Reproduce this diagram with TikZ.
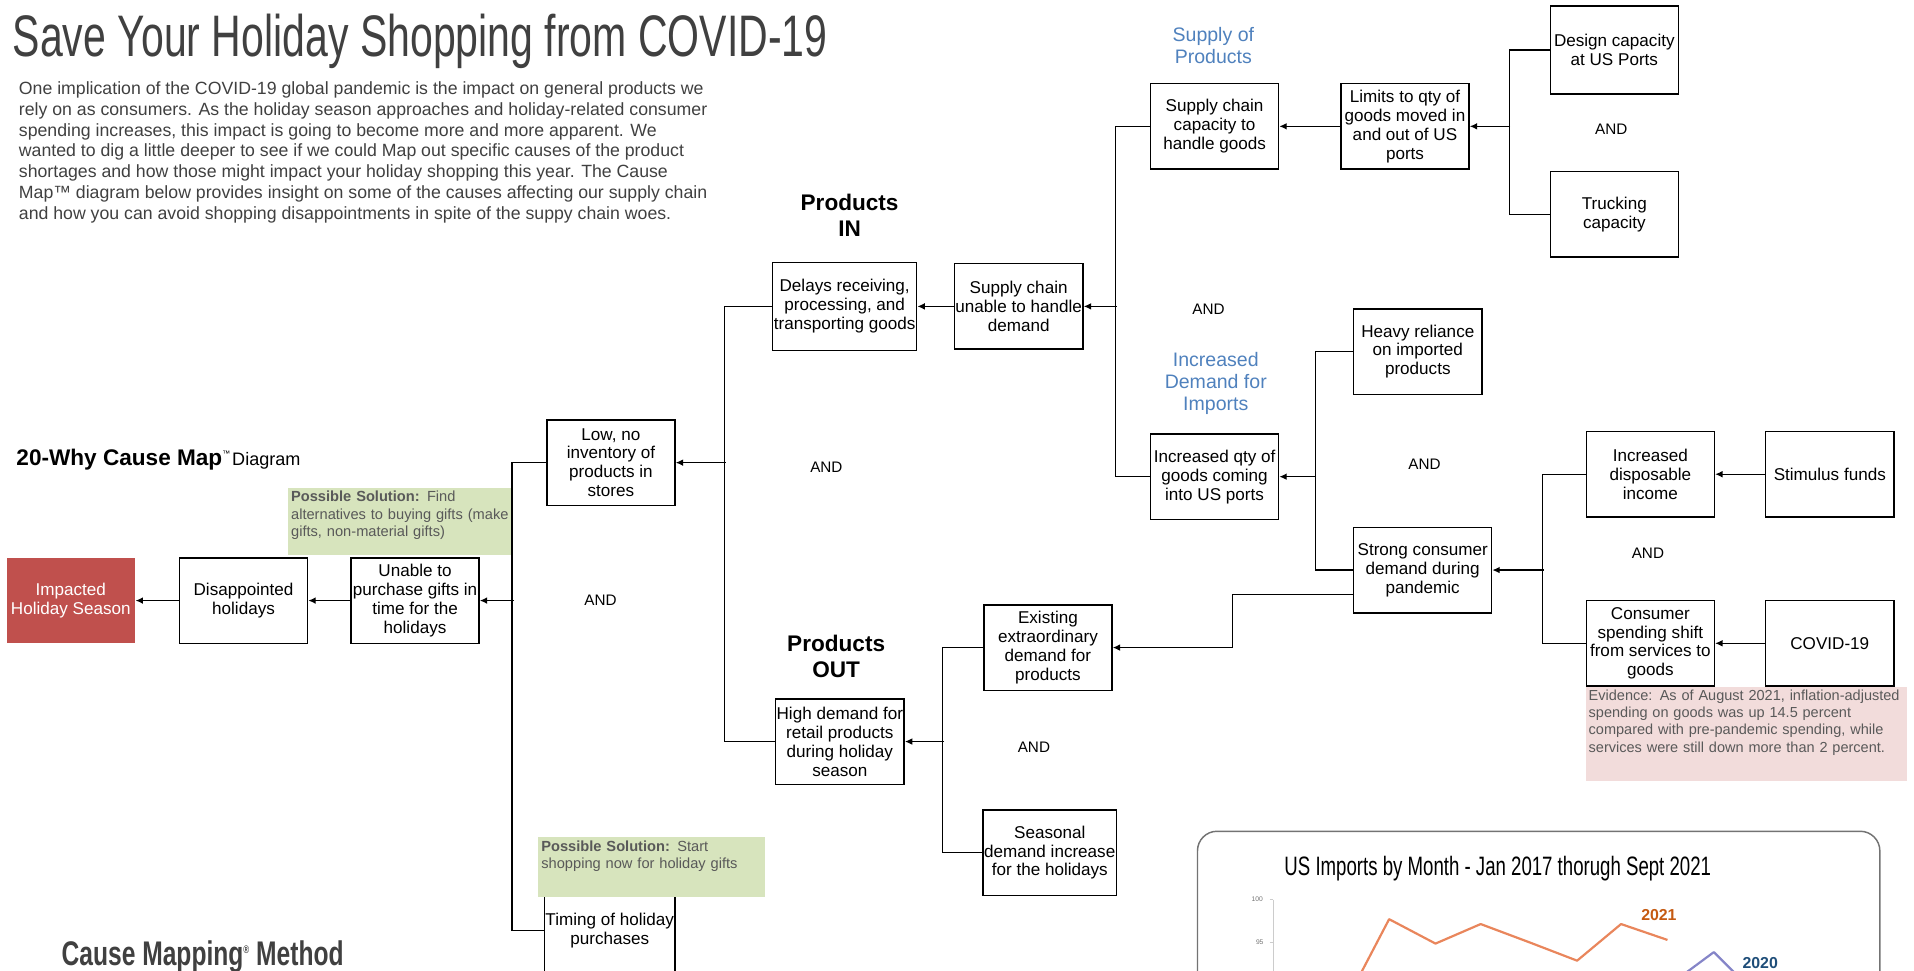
\documentclass[tikz,border=0pt]{standalone}
\usepackage{fontspec}
\setmainfont{Liberation Sans}
\newfontfamily\headfont[FakeStretch=0.70]{Liberation Sans}
\newfontfamily\methodfont[FakeStretch=0.72]{Liberation Sans}
\usetikzlibrary{arrows.meta}

\definecolor{impactred}{HTML}{C0504D}
\definecolor{solgreen}{HTML}{D7E4BD}
\definecolor{evidpink}{HTML}{F2DCDB}
\definecolor{labelblue}{HTML}{4F81BD}
\definecolor{textgray}{HTML}{404040}
\definecolor{notegray}{HTML}{595959}
\definecolor{line21}{HTML}{E9865C}
\definecolor{line20}{HTML}{8585C8}
\definecolor{year21}{HTML}{C55A11}
\definecolor{year20}{HTML}{1F4E79}

\tikzset{
  cause/.style={draw, line width=1.2pt, minimum width=105pt, minimum height=70pt, inner sep=1pt, align=center, font=\fontsize{14}{15.5}\selectfont},
  andlbl/.style={font=\fontsize{12.5}{15}\selectfont},
  grouplbl/.style={align=center, text=labelblue, font=\fontsize{16}{18}\selectfont},
  sidelbl/.style={align=center, font=\bfseries\fontsize{18.5}{21}\selectfont},
  note/.style={anchor=north west, align=left, inner sep=2pt, text=notegray, font=\fontsize{12}{14}\selectfont},
  arr/.style={-{Latex[length=6pt,width=5.5pt]}},
}

\begin{document}
\begin{tikzpicture}[x=1pt, y=-1pt, line width=1pt]
\useasboundingbox (0,0) rectangle (1568,795);

\node[anchor=base west, inner sep=0, text=textgray, font=\headfont\fontsize{48}{48}\selectfont] (title) at (10,46) {Save Your Holiday Shopping from COVID-19};
\node[anchor=north west, align=left, inner sep=0, text=textgray, font=\fontsize{14.5}{17}\selectfont] (intro) at (15,66.5) {One implication of the COVID-19 global pandemic is the impact on general products we\\
rely on as consumers. As the holiday season approaches and holiday-related consumer\\
spending increases, this impact is going to become more and more apparent. We\\
wanted to dig a little deeper to see if we could Map out specific causes of the product\\
shortages and how those might impact your holiday shopping this year. The Cause\\
Map™ diagram below provides insight on some of the causes affecting our supply chain\\
and how you can avoid shopping disappointments in spite of the suppy chain woes.};
\node[anchor=base west, inner sep=0] (maplbl) at (13,381) {{\bfseries\fontsize{18.5}{20}\selectfont 20-Why Cause Map}\raisebox{7pt}{\fontsize{6.5}{7}\selectfont ™}\,{\fontsize{14.8}{17}\selectfont Diagram}};
\node[anchor=base west, inner sep=0, text=textgray, font=\methodfont\bfseries\fontsize{28}{28}\selectfont] (method) at (50,791) {Cause Mapping\raisebox{10pt}{\fontsize{9}{9}\selectfont ®} Method};

\fill[solgreen] (236,400) rectangle (420,455);
\node[note, text width=180pt] (sol1) at (236,400) {\textbf{Possible Solution:} Find\\alternatives to buying gifts (make\\gifts, non-material gifts)};
\fill[evidpink] (1299,563) rectangle (1562,640);
\node[note, font=\fontsize{11.9}{14}\selectfont, text width=259pt] (evid) at (1299,563) {Evidence: As of August 2021, inflation-adjusted\\spending on goods was up 14.5 percent\\compared with pre-pandemic spending, while\\services were still down more than 2 percent.};

\node[cause, fill=impactred, draw=none, text=white] (impacted) at (58,492) {Impacted\\Holiday Season};
\node[cause] (disap) at (199.5,492) {Disappointed\\holidays};
\node[cause] (unable) at (340,492) {Unable to\\purchase gifts in\\time for the\\holidays};
\node[cause] (lowinv) at (500.5,379) {Low, no\\inventory of\\products in\\stores};
\node[cause, minimum width=118pt, minimum height=72pt] (delays) at (692,251) {Delays receiving,\\processing, and\\transporting goods};
\node[cause] (scunable) at (834.5,251) {Supply chain\\unable to handle\\demand};
\node[cause] (sccap) at (995,103.5) {Supply chain\\capacity to\\handle goods};
\node[cause] (limits) at (1151,103.5) {Limits to qty of\\goods moved in\\and out of US\\ports};
\node[cause, minimum height=72pt] (design) at (1322.5,41) {Design capacity\\at US Ports};
\node[cause] (trucking) at (1322.5,175.5) {Trucking\\capacity};
\node[cause] (incqty) at (995,390.5) {Increased qty of\\goods coming\\into US ports};
\node[cause] (heavy) at (1161.5,288) {Heavy reliance\\on imported\\products};
\node[cause, minimum width=113pt] (strong) at (1165.5,467) {Strong consumer\\demand during\\pandemic};
\node[cause] (incdisp) at (1352,388.5) {Increased\\disposable\\income};
\node[cause] (stimulus) at (1499,388.5) {Stimulus funds};
\node[cause] (shift) at (1352,527) {Consumer\\spending shift\\from services to\\goods};
\node[cause] (covid) at (1499,527) {COVID-19};
\node[cause] (existing) at (858.5,530.5) {Existing\\extraordinary\\demand for\\products};
\node[cause] (highdem) at (688,607.5) {High demand for\\retail products\\during holiday\\season};
\node[cause] (seasonal) at (860,698.5) {Seasonal\\demand increase\\for the holidays};
\node[cause, minimum height=84pt] (timing) at (499.5,762) {Timing of holiday\\purchases};

\fill[solgreen] (441,686) rectangle (627,735);
\node[note, text width=182pt] (sol2) at (441,686) {\textbf{Possible Solution:} Start\\shopping now for holiday gifts};

\node[sidelbl] (inlbl) at (696,176.5) {Products\\IN};
\node[sidelbl] (outlbl) at (685,537.5) {Products\\OUT};
\node[grouplbl] (supplylbl) at (994,37.5) {Supply of\\Products};
\node[grouplbl] (demandlbl) at (996,314.5) {Increased\\Demand for\\Imports};

\node[andlbl] (and1) at (677,383) {AND};
\node[andlbl] (and2) at (492,492) {AND};
\node[andlbl] (and3) at (990,253) {AND};
\node[andlbl] (and4) at (1320,106) {AND};
\node[andlbl] (and5) at (1167,380) {AND};
\node[andlbl] (and6) at (1350,453) {AND};
\node[andlbl] (and7) at (847,612) {AND};

\draw[arr] (disap) -- (impacted);
\draw[arr] (unable) -- (disap);
\draw (lowinv.west) -- ++(-28,0) |- (timing.west);
\draw[arr] ([xshift=28pt]unable.east) -- (unable.east);
\draw (delays.west) -- ++(-39,0) |- (highdem.west);
\draw[arr] ([xshift=41pt]lowinv.east) -- (lowinv.east);
\draw[arr] (scunable) -- (delays);
\draw (sccap.west) -- ++(-28,0) |- (incqty.west);
\draw[arr] ([xshift=27pt]scunable.east) -- (scunable.east);
\draw[arr] (limits) -- (sccap);
\draw (design.west) -- ++(-33,0) |- (trucking.west);
\draw[arr] ([xshift=33pt]limits.east) -- (limits.east);
\draw (heavy.west) -- ++(-31,0) |- (strong.west);
\draw[arr] ([xshift=30pt]incqty.east) -- (incqty.east);
\draw (incdisp.west) -- ++(-35,0) |- (shift.west);
\draw[arr] ([xshift=42pt]strong.east) -- (strong.east);
\draw[arr] (stimulus) -- (incdisp);
\draw[arr] (covid) -- (shift);
\draw[arr] ([yshift=-20pt]strong.west) -- ++(-99,0) |- (existing.east);
\draw (existing.west) -- ++(-33,0) |- (seasonal.west);
\draw[arr] ([xshift=32pt]highdem.east) -- (highdem.east);

\begin{scope}
\draw[black!55, line width=1.2pt, rounded corners=16pt] (981,681) rectangle (1540,840);
\node[anchor=base, inner sep=0, font=\headfont\fontsize{21.8}{22}\selectfont] (charttitle) at (1227,717) {US Imports by Month - Jan 2017 thorugh Sept 2021};
\node[text=black!55, font=\fontsize{5.5}{6}\selectfont] (y100) at (1030,737) {100};
\node[text=black!55, font=\fontsize{5.5}{6}\selectfont] (y95) at (1032,772) {95};
\draw[black!20] (1043,737) -- (1043,800);
\draw[black!20] (1040,737) -- (1043,737);
\draw[black!20] (1040,772) -- (1043,772);
\draw[line21, line width=1.8pt, line join=round] (1115,797) -- (1138,753) -- (1176,773) -- (1213,757) -- (1253,772) -- (1292,787) -- (1328,757) -- (1366,770);
\draw[line20, line width=1.8pt, line join=round] (1381,797) -- (1404,780) -- (1421,797);
\node[text=year21, font=\bfseries\fontsize{13}{13}\selectfont] (lbl21) at (1359,750) {2021};
\node[text=year20, font=\bfseries\fontsize{13}{13}\selectfont] (lbl20) at (1442,789) {2020};
\end{scope}
\end{tikzpicture}
\end{document}
